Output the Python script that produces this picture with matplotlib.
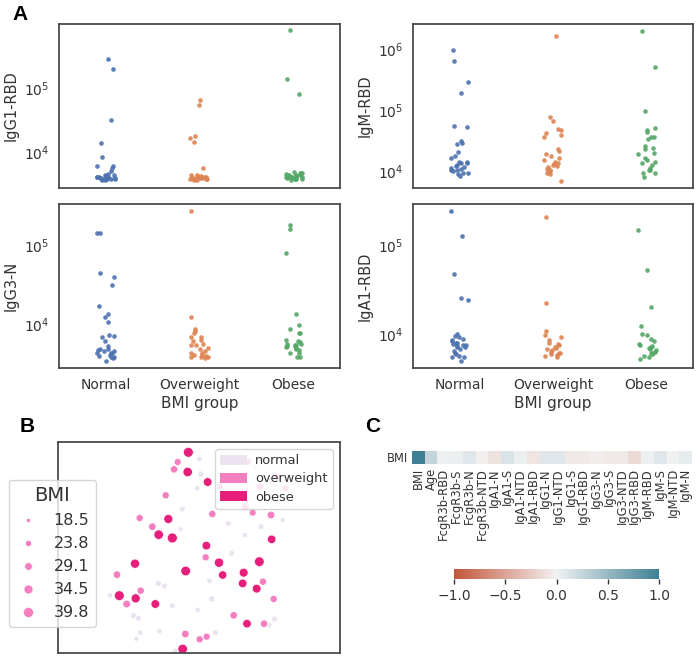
import numpy as np
import matplotlib
matplotlib.use('Agg')
import matplotlib.pyplot as plt
from matplotlib.patches import Patch
from matplotlib.lines import Line2D
import seaborn as sns

plt.rcParams['font.family'] = ['DejaVu Sans']

# ---------------- data: panel A (log10 of antibody levels) ----------------
groups = ['Normal', 'Overweight', 'Obese']
group_colors = ['#4C72B0', '#DD8452', '#55A868']

igg1_rbd_normal = [5.45, 5.29, 4.50, 4.15, 3.93, 3.79, 3.79, 3.77, 3.72,
                   3.58, 3.58, 3.59, 3.59, 3.59, 3.60, 3.60, 3.60, 3.60, 3.61,
                   3.61, 3.61, 3.62, 3.62, 3.63, 3.63, 3.64, 3.65, 3.66, 3.67]
igg1_rbd_overweight = [4.81, 4.73, 4.26, 4.22, 4.17, 3.77,
                       3.57, 3.58, 3.59, 3.59, 3.60, 3.60, 3.60, 3.61, 3.61, 3.61,
                       3.62, 3.62, 3.62, 3.63, 3.63, 3.64, 3.64, 3.65, 3.66]
igg1_rbd_obese = [5.90, 5.14, 4.90,
                  3.58, 3.59, 3.59, 3.60, 3.60, 3.61, 3.61, 3.62, 3.62, 3.62, 3.63,
                  3.63, 3.64, 3.64, 3.65, 3.65, 3.66, 3.67, 3.68, 3.68, 3.69, 3.70]

igm_rbd_normal = [5.98, 5.81, 5.47, 5.28, 4.74, 4.72, 4.46, 4.49, 4.44, 4.31,
                  4.25, 4.22, 4.16, 4.15, 4.14, 4.08, 4.07, 4.05, 4.03, 4.02,
                  4.00, 3.98, 3.97, 3.96, 3.93, 4.14, 4.11, 4.04]
igm_rbd_overweight = [6.21, 4.89, 4.83, 4.70, 4.67, 4.62, 4.60, 4.57, 4.37, 4.34,
                      4.29, 4.25, 4.22, 4.19, 4.16, 4.14, 4.11, 4.09, 4.07, 4.04,
                      4.00, 3.97, 3.96, 3.85, 4.12, 4.02]
igm_rbd_obese = [6.29, 5.71, 4.98, 4.71, 4.67, 4.64, 4.57, 4.56, 4.53, 4.41,
                 4.38, 4.37, 4.30, 4.29, 4.22, 4.19, 4.16, 4.14, 4.11, 4.05,
                 4.03, 4.02, 3.98, 3.97, 3.91]

igg3_n_normal = [5.15, 5.15, 4.65, 4.60, 4.50, 4.23, 4.13, 4.10, 4.03, 3.875,
                 3.85, 3.86, 3.80, 3.73, 3.70, 3.69, 3.68, 3.67, 3.65, 3.65,
                 3.625, 3.61, 3.60, 3.60, 3.58, 3.55, 3.67, 3.65]
igg3_n_overweight = [5.42, 4.10, 3.94, 3.92, 3.89, 3.85, 3.84, 3.81, 3.79, 3.76,
                     3.75, 3.74, 3.71, 3.69, 3.67, 3.65, 3.625, 3.62, 3.60, 3.60,
                     3.58, 3.60, 3.61, 3.65]
igg3_n_obese = [5.25, 5.20, 4.90, 4.14, 3.99, 3.95, 3.90, 3.90, 3.81, 3.80,
                3.78, 3.76, 3.75, 3.74, 3.73, 3.72, 3.71, 3.70, 3.68, 3.65,
                3.64, 3.60, 3.59, 3.76, 3.73]

iga1_rbd_normal = [5.38, 5.10, 4.68, 4.41, 4.39, 4.01, 3.99, 3.97, 3.95, 3.93,
                   3.91, 3.90, 3.88, 3.88, 3.87, 3.86, 3.84, 3.82, 3.80, 3.78,
                   3.76, 3.75, 3.75, 3.71, 3.91, 3.94, 3.86]
iga1_rbd_overweight = [5.32, 4.35, 4.04, 4.00, 3.97, 3.94, 3.91, 3.88, 3.86, 3.84,
                       3.83, 3.80, 3.78, 3.77, 3.76, 3.75, 3.90, 3.79, 3.85, 3.81]
iga1_rbd_obese = [5.17, 4.72, 4.31, 4.10, 4.01, 4.00, 3.95, 3.93, 3.90, 3.88,
                  3.87, 3.85, 3.84, 3.83, 3.81, 3.79, 3.78, 3.76, 3.75, 3.73,
                  3.80, 3.86]

# ---------------- data: panel B (embedding + BMI) ----------------
umap1_normal = [4.33, 4.38, 4.27, 3.82, 3.77, 5.20, 5.70, 6.18, 6.83, 3.10,
                5.30, 4.63, 3.10, 3.28, 1.65, 4.70, 3.52, 4.28, 2.36, 2.50,
                6.58, 3.13, 2.56, 2.44, 4.81, 3.60, 6.43, 6.00, 5.75]
umap2_normal = [5.93, 5.48, 5.05, 4.43, 3.82, 4.00, 3.65, 3.90, 4.10, 3.60,
                3.10, 2.28, 2.20, 2.12, 1.84, 1.73, 1.53, 1.40, 1.23, 1.15,
                1.13, 0.77, 0.72, 0.54, 0.72, 0.17, 0.95, 5.70, 4.55]
bmi_normal = [22.1, 23.5, 21.8, 22.9, 20.5, 23.0, 21.2, 22.4, 20.8, 23.7,
              22.0, 21.5, 23.2, 22.6, 21.0, 23.9, 22.3, 21.7, 24.1, 22.8,
              23.3, 22.5, 21.4, 20.9, 23.6, 22.2, 21.9, 23.1, 22.7]

umap1_overweight = [3.68, 3.57, 3.32, 2.54, 2.92, 4.72, 5.93, 6.48, 4.52, 1.86,
                    2.57, 2.15, 6.24, 6.56, 5.36, 6.27, 3.91, 4.34, 4.55, 5.80,
                    6.15, 6.65, 6.90, 5.70, 4.95]
umap2_overweight = [5.84, 5.62, 4.84, 4.16, 3.90, 4.28, 4.32, 4.25, 2.98, 2.46,
                    1.98, 1.58, 2.25, 1.73, 1.24, 0.99, 0.68, 0.52, 0.60, 5.85,
                    5.10, 5.40, 5.05, 4.50, 5.10]
bmi_overweight = [26.5, 27.8, 27.1, 26.9, 28.2, 27.4, 26.2, 28.8, 27.0, 28.5,
                  27.6, 28.9, 27.3, 26.8, 28.0, 27.9, 28.4, 27.2, 26.6, 25.9,
                  28.1, 27.7, 26.4, 27.5, 26.0]

umap1_obese = [4.00, 3.98, 4.58, 3.40, 3.11, 3.52, 4.54, 6.50, 2.40, 3.92,
               4.92, 5.03, 6.13, 5.66, 5.63, 6.05, 1.93, 2.42, 3.01, 5.76, 3.83]
umap2_obese = [6.13, 5.54, 5.24, 4.13, 3.66, 3.56, 3.33, 3.52, 2.79, 2.57,
               2.82, 2.45, 2.85, 2.52, 2.20, 2.04, 1.83, 1.75, 1.58, 0.99, 0.23]
bmi_obese = [38.6, 36.2, 33.5, 34.8, 36.9, 39.1, 33.0, 32.4, 35.3, 37.4,
             35.8, 31.9, 37.9, 34.1, 32.8, 33.6, 38.2, 34.9, 33.3, 32.5, 37.1]

bmi_group_labels = ['normal', 'overweight', 'obese']
bmi_group_colors = ['#ebe3f0', '#f47fc0', '#e61f7c']
bmi_legend_values = [18.5, 23.8, 29.1, 34.5, 39.8]

# ---------------- data: panel C (correlation with BMI) ----------------
corr_labels = ['BMI', 'Age', 'FcgR3b-RBD', 'FcgR3b-S', 'FcgR3b-N', 'FcgR3b-NTD',
               'IgA1-N', 'IgA1-S', 'IgA1-NTD', 'IgA1-RBD', 'IgG1-N', 'IgG1-NTD',
               'IgG1-S', 'IgG1-RBD', 'IgG3-N', 'IgG3-S', 'IgG3-NTD', 'IgG3-RBD',
               'IgM-RBD', 'IgM-S', 'IgM-NTD', 'IgM-N']
corr_values = [1.0, 0.25, 0.02, 0.03, 0.10, -0.02, -0.10, 0.12, 0.03, -0.08,
               0.10, 0.10, -0.06, -0.05, -0.03, -0.05, -0.05, -0.15,
               0.03, 0.10, 0.0, 0.06]

# ---------------- figure ----------------
W, H = 700, 669
fig = plt.figure(figsize=(W / 100, H / 100), dpi=100)
text_color = '#333333'
spine_color = '#444444'


def px_axes(l, t, r, b):
    return fig.add_axes([l / W, 1 - b / H, (r - l) / W, (b - t) / H])


rng = np.random.default_rng(7)
strip_panels = [
    ('IgG1-RBD', [igg1_rbd_normal, igg1_rbd_overweight, igg1_rbd_obese], (59, 24, 340, 188)),
    ('IgM-RBD', [igm_rbd_normal, igm_rbd_overweight, igm_rbd_obese], (413, 24, 693, 188)),
    ('IgG3-N', [igg3_n_normal, igg3_n_overweight, igg3_n_obese], (59, 204, 340, 368)),
    ('IgA1-RBD', [iga1_rbd_normal, iga1_rbd_overweight, iga1_rbd_obese], (413, 204, 693, 368)),
]
for i, (name, data, box) in enumerate(strip_panels):
    ax = px_axes(*box)
    for g, (vals, c) in enumerate(zip(data, group_colors)):
        v = 10 ** np.asarray(vals)
        x = g + rng.uniform(-0.1, 0.1, len(v))
        ax.scatter(x, v, s=11, color=c, linewidths=0, alpha=0.9)
    ax.set_yscale('log')
    ax.set_xlim(-0.5, 2.5)
    if i == 0:
        lo, hi = ax.get_ylim()
        ax.set_ylim(lo, min(hi, 10 ** 5.99))
    ax.set_xticks(range(3))
    ax.minorticks_off()
    if i >= 2:
        ax.set_xticklabels(groups)
        ax.set_xlabel('BMI group', fontsize=11, color=text_color, labelpad=3)
    else:
        ax.set_xticklabels([])
    ax.set_ylabel(name, fontsize=10.5, color=text_color)
    ax.tick_params(length=0, labelsize=10, colors=text_color, pad=7)
    for sp in ax.spines.values():
        sp.set_color(spine_color)
        sp.set_linewidth(1.25)

# ---- panel B ----
def bmi_size(b):
    b = np.asarray(b, dtype=float)
    return 0.5184 * (16 + 3.94 * (b - 18.5))

axb = px_axes(58, 442, 340, 653)
for u1, u2, b, c in [(umap1_normal, umap2_normal, bmi_normal, bmi_group_colors[0]),
                     (umap1_overweight, umap2_overweight, bmi_overweight, bmi_group_colors[1]),
                     (umap1_obese, umap2_obese, bmi_obese, bmi_group_colors[2])]:
    axb.scatter(u1, u2, s=bmi_size(b), color=c, edgecolors='white', linewidths=0.4)
axb.set_xlim(0.09, 8.55)
axb.set_ylim(0.11, 6.44)
axb.set_xticks([])
axb.set_yticks([])
for sp in axb.spines.values():
    sp.set_color(spine_color)
    sp.set_linewidth(1.25)

grp_handles = [Patch(facecolor=c, edgecolor='none', label=l)
               for l, c in zip(bmi_group_labels, bmi_group_colors)]
leg1 = axb.legend(handles=grp_handles, loc='upper right', fontsize=9.3,
                  handlelength=2.1, handleheight=0.85, borderaxespad=0.55,
                  labelspacing=0.4, handletextpad=0.6, labelcolor=text_color)
axb.add_artist(leg1)

size_handles = [Line2D([], [], marker='o', ls='', color=bmi_group_colors[1],
                       markeredgecolor='white', markeredgewidth=0.4,
                       markersize=float(np.sqrt(bmi_size(v))), label=f'{v}')
                for v in bmi_legend_values]
leg2 = axb.legend(handles=size_handles, title='BMI', loc='upper left',
                  bbox_to_anchor=(9 / W, 1 - 480 / H), bbox_transform=fig.transFigure,
                  borderaxespad=0, fontsize=11.5, title_fontsize=14,
                  labelspacing=0.5, handletextpad=0.8, handlelength=1.6,
                  labelcolor=text_color)
leg2.get_title().set_color(text_color)

# ---- panel C ----
cmap = sns.diverging_palette(20, 220, as_cmap=True)
axc = px_axes(412, 451, 692, 464)
mesh = axc.pcolormesh(np.array([corr_values]), cmap=cmap, vmin=-1, vmax=1)
axc.set_xlim(0, len(corr_values))
axc.set_ylim(0, 1)
axc.set_xticks(np.arange(len(corr_labels)) + 0.5)
axc.set_xticklabels(corr_labels, rotation=90, fontsize=8.3, color=text_color)
axc.set_yticks([0.5])
axc.set_yticklabels(['BMI'], fontsize=8.3, color=text_color)
axc.tick_params(length=0, pad=3)
for sp in axc.spines.values():
    sp.set_visible(False)

cax = px_axes(454, 569, 659, 579)
cb = fig.colorbar(mesh, cax=cax, orientation='horizontal')
cb.set_ticks([-1.0, -0.5, 0.0, 0.5, 1.0])
cb.outline.set_linewidth(0)
cax.tick_params(labelsize=10, colors=text_color, length=3.5, width=1)

# ---- panel letters ----
for lab, (x, y) in [('A', (20, 14)), ('B', (27, 427)), ('C', (373, 427))]:
    fig.text(x / W, 1 - y / H, lab, ha='center', va='center', fontsize=15,
             fontweight='bold', family=['Liberation Sans', 'DejaVu Sans'])

fig.savefig('out.png', dpi=100)
